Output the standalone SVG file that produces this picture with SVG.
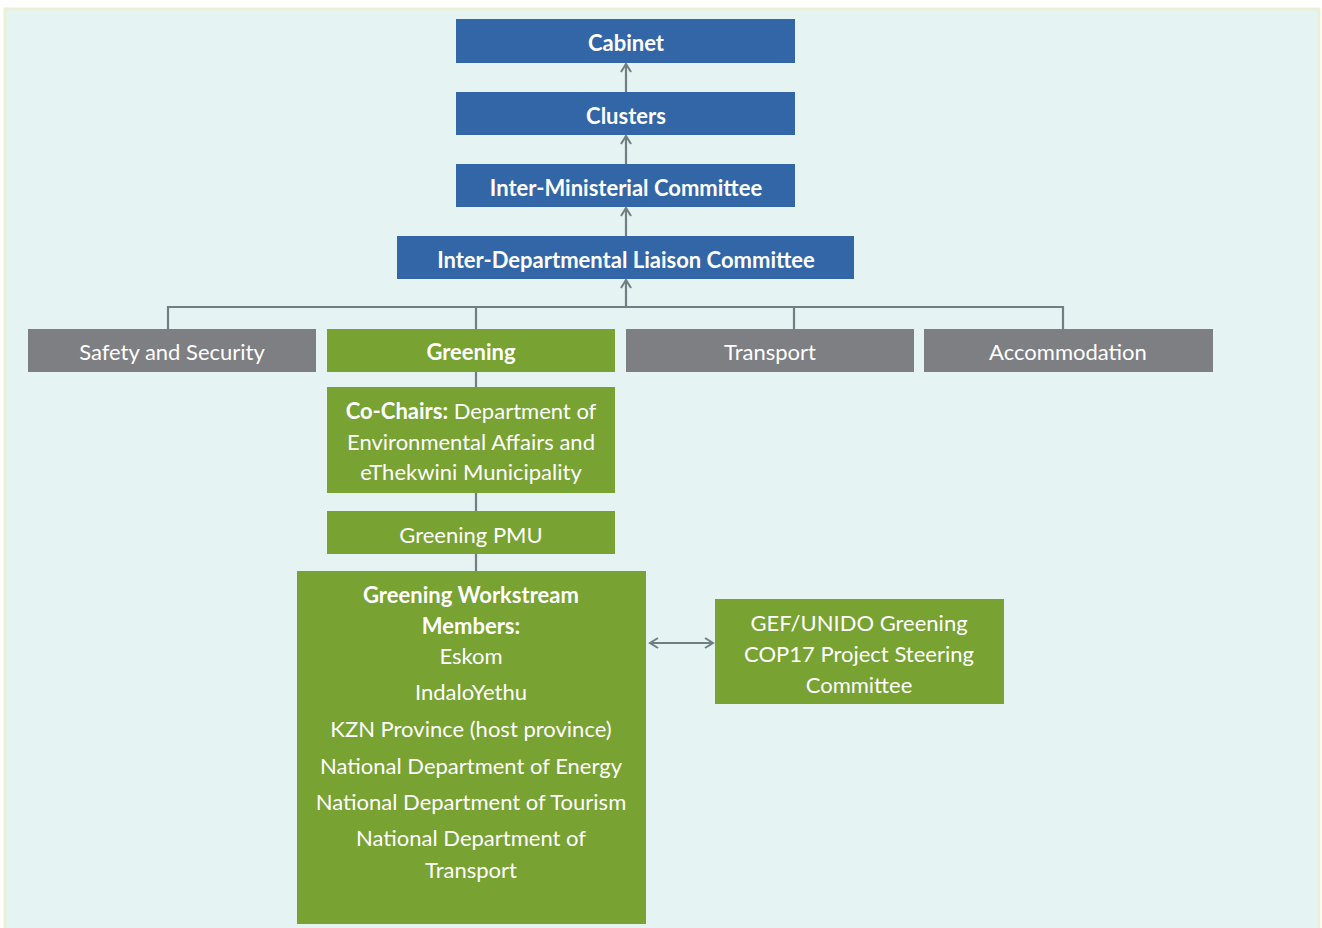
<svg xmlns="http://www.w3.org/2000/svg" width="1322" height="928" viewBox="0 0 1322 928">
<defs>
<style>
.blue{fill:#3366a6}
.gray{fill:#7e7f83}
.green{fill:#78a232}
.t{font-family:Lato,"Open Sans","Liberation Sans",sans-serif;font-size:22px;fill:#ffffff;text-anchor:middle;dominant-baseline:central}
.b{font-weight:bold}
.conn{stroke:#6f7f82;stroke-width:2.2;fill:none}
</style>
<marker id="ah" viewBox="0 0 12 12" refX="10" refY="6" markerWidth="12" markerHeight="12" markerUnits="userSpaceOnUse" orient="auto-start-reverse">
<polyline points="2,1 10,6 2,11" fill="none" stroke="#6f7f82" stroke-width="2"/>
</marker>
</defs>
<rect x="0" y="0" width="1322" height="928" fill="#ffffff"/>
<rect x="5" y="9" width="1314" height="922" fill="#e5f3f3" stroke="#e9f0d5" stroke-width="3"/>
<g id="connectors">
<line class="conn" x1="626" y1="92" x2="626" y2="64" marker-end="url(#ah)"/>
<line class="conn" x1="626" y1="164" x2="626" y2="136" marker-end="url(#ah)"/>
<line class="conn" x1="626" y1="236" x2="626" y2="208" marker-end="url(#ah)"/>
<line class="conn" x1="626" y1="307" x2="626" y2="280" marker-end="url(#ah)"/>
<polyline class="conn" points="168,329 168,307 1063,307 1063,329"/>
<line class="conn" x1="476" y1="307" x2="476" y2="329"/>
<line class="conn" x1="794" y1="307" x2="794" y2="329"/>
<line class="conn" x1="476" y1="372" x2="476" y2="387"/>
<line class="conn" x1="476" y1="493" x2="476" y2="511"/>
<line class="conn" x1="476" y1="554" x2="476" y2="571"/>
<line class="conn" x1="650" y1="643" x2="713" y2="643" marker-start="url(#ah)" marker-end="url(#ah)"/>
</g>
<g id="cabinet"><rect class="blue" x="456" y="19" width="339" height="44"/><text class="t b" x="626" y="42">Cabinet</text></g>
<g id="clusters"><rect class="blue" x="456" y="92" width="339" height="43"/><text class="t b" x="626" y="115">Clusters</text></g>
<g id="imc"><rect class="blue" x="456" y="164" width="339" height="43"/><text class="t b" x="626" y="187">Inter-Ministerial Committee</text></g>
<g id="idlc"><rect class="blue" x="397" y="236" width="457" height="43"/><text class="t b" x="626" y="259">Inter-Departmental Liaison Committee</text></g>
<g id="safety"><rect class="gray" x="28" y="329" width="288" height="43"/><text class="t" x="172" y="351">Safety and Security</text></g>
<g id="greening"><rect class="green" x="327" y="329" width="288" height="43"/><text class="t b" x="471" y="351">Greening</text></g>
<g id="transport"><rect class="gray" x="626" y="329" width="288" height="43"/><text class="t" x="770" y="351">Transport</text></g>
<g id="accommodation"><rect class="gray" x="924" y="329" width="289" height="43"/><text class="t" x="1068" y="351">Accommodation</text></g>
<g id="cochairs"><rect class="green" x="327" y="387" width="288" height="106"/>
<text class="t" x="471" y="410"><tspan class="b">Co-Chairs:</tspan> Department of</text>
<text class="t" x="471" y="441">Environmental Affairs and</text>
<text class="t" x="471" y="471">eThekwini Municipality</text></g>
<g id="pmu"><rect class="green" x="327" y="511" width="288" height="43"/><text class="t" x="471" y="534">Greening PMU</text></g>
<g id="workstream"><rect class="green" x="297" y="571" width="349" height="353"/>
<text class="t b" x="471" y="594">Greening Workstream</text>
<text class="t b" x="471" y="625">Members:</text>
<text class="t" x="471" y="655">Eskom</text>
<text class="t" x="471" y="691">IndaloYethu</text>
<text class="t" x="471" y="728">KZN Province (host province)</text>
<text class="t" x="471" y="765">National Department of Energy</text>
<text class="t" x="471" y="801">National Department of Tourism</text>
<text class="t" x="471" y="837">National Department of</text>
<text class="t" x="471" y="869">Transport</text></g>
<g id="gef"><rect class="green" x="715" y="599" width="289" height="105"/>
<text class="t" x="859" y="622">GEF/UNIDO Greening</text>
<text class="t" x="859" y="653">COP17  Project Steering</text>
<text class="t" x="859" y="684">Committee</text></g>
</svg>
